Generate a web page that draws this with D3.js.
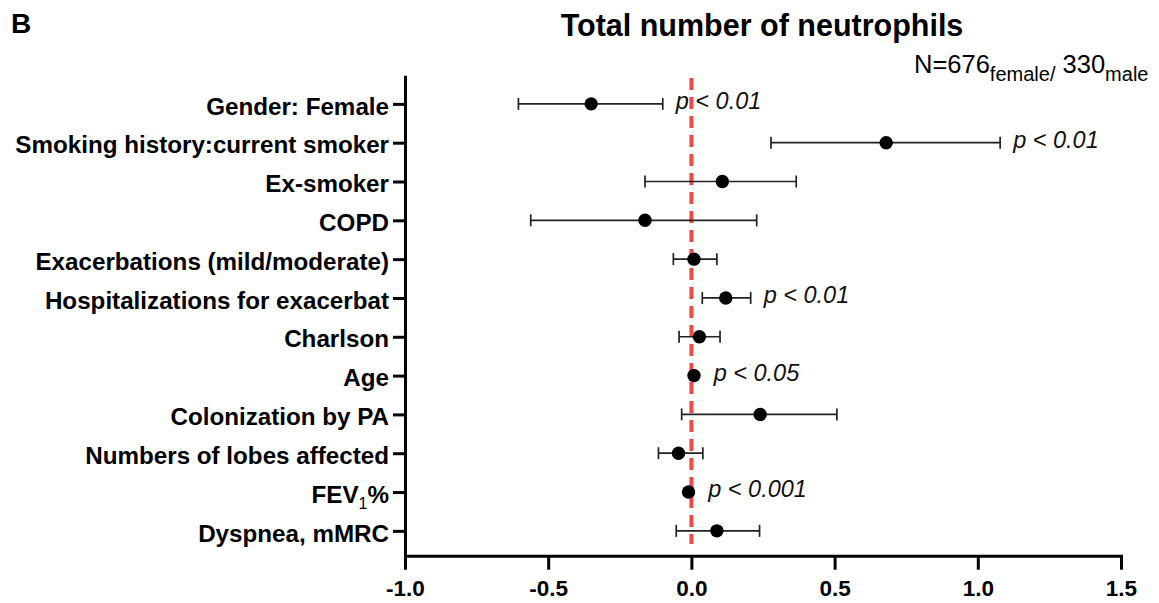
<!DOCTYPE html>
<html>
<head>
<meta charset="utf-8">
<script src="https://cdn.jsdelivr.net/npm/d3@7"></script>
<style>
  body { margin: 0; background: #fff; }
  svg text { font-family: "Liberation Sans", Arial, sans-serif; }
</style>
</head>
<body>
<svg id="chart" width="1159" height="603"></svg>
<script>
// Forest plot: total number of neutrophils

var categories = [
  'Gender: Female',
  'Smoking history:current smoker',
  'Ex-smoker',
  'COPD',
  'Exacerbations (mild/moderate)',
  'Hospitalizations for exacerbat',
  'Charlson',
  'Age',
  'Colonization by PA',
  'Numbers of lobes affected',
  'FEV1%',
  'Dyspnea, mMRC'
];
var estimates = [-0.35, 0.68, 0.108, -0.162, 0.009, 0.12, 0.028, 0.009, 0.24, -0.045, -0.01, 0.089];
var ciLow     = [-0.604, 0.278, -0.162, -0.561, -0.063, 0.038, -0.043, 0.005, -0.034, -0.115, -0.014, -0.053];
var ciHigh    = [-0.10, 1.078, 0.366, 0.228, 0.089, 0.207, 0.10, 0.013, 0.508, 0.04, -0.006, 0.238];
var pLabels   = ['p < 0.01', 'p < 0.01', '', '', '', 'p < 0.01', '', 'p < 0.05', '', '', 'p < 0.001', ''];
var xTicks      = [-1.0, -0.5, 0.0, 0.5, 1.0, 1.5];
var xTickLabels = ['-1.0', '-0.5', '0.0', '0.5', '1.0', '1.5'];

var svg = d3.select('#chart');

var x = d3.scaleLinear().domain([-1.0, 1.5]).range([405, 1121]);
var y = d3.scaleLinear().domain([-0.7, 11.64]).range([76.7, 555.7]);
var r = 6.7;

// reference line at zero
svg.append('line')
    .attr('x1', x(0)).attr('x2', x(0))
    .attr('y1', 78).attr('y2', 544)
    .attr('stroke', '#f44848')
    .attr('stroke-width', 4)
    .attr('stroke-dasharray', '12,7');

// axes
var yAxis = svg.append('g')
    .attr('transform', 'translate(' + x.range()[0] + ',0)')
    .call(d3.axisLeft(y)
      .tickValues(d3.range(categories.length))
      .tickFormat(function(i) { return categories[i]; })
      .tickSize(12).tickSizeOuter(0).tickPadding(4));

var xAxis = svg.append('g')
    .attr('transform', 'translate(0,' + y.range()[1] + ')')
    .call(d3.axisBottom(x)
      .tickValues(xTicks)
      .tickFormat(function(d, i) { return xTickLabels[i]; })
      .tickSize(14).tickSizeOuter(0).tickPadding(10));

[yAxis, xAxis].forEach(function(g) {
  g.selectAll('path, line').attr('stroke', '#000').attr('stroke-width', 3);
  g.select('.domain').attr('stroke-linecap', 'square');
  g.selectAll('text')
      .attr('fill', '#000')
      .attr('font-weight', 'bold')
      .style('font-family', '"Liberation Sans", Arial, sans-serif');
});
yAxis.selectAll('text').attr('font-size', 24.2).attr('dy', '0.42em');
xAxis.selectAll('text').attr('font-size', 22.5);

// FEV1 with subscript
yAxis.selectAll('.tick text').filter(function(i) { return categories[i] === 'FEV1%'; })
    .text(null)
    .call(function(t) {
      t.append('tspan').text('FEV');
      t.append('tspan').attr('font-size', 16).attr('font-weight', 'normal').attr('dy', 6).text('1');
      t.append('tspan').attr('dy', -6).text('%');
    });

var rows = categories.map(function(c, i) {
  return { i: i, est: estimates[i], lo: ciLow[i], hi: ciHigh[i], p: pLabels[i] };
});

var bars = svg.append('g').selectAll('g')
    .data(rows)
  .enter().append('g');

bars.append('line')
    .attr('x1', function(d) { return x(d.lo); })
    .attr('x2', function(d) { return x(d.hi); })
    .attr('y1', function(d) { return y(d.i); })
    .attr('y2', function(d) { return y(d.i); })
    .attr('stroke', '#222').attr('stroke-width', 1.7);

['lo', 'hi'].forEach(function(k) {
  bars.append('line')
      .attr('x1', function(d) { return x(d[k]); })
      .attr('x2', function(d) { return x(d[k]); })
      .attr('y1', function(d) { return y(d.i) - 6; })
      .attr('y2', function(d) { return y(d.i) + 6; })
      .attr('stroke', '#222').attr('stroke-width', 1.7);
});

bars.append('circle')
    .attr('cx', function(d) { return x(d.est); })
    .attr('cy', function(d) { return y(d.i); })
    .attr('r', r)
    .attr('fill', '#000');

bars.filter(function(d) { return d.p; }).append('text')
    .attr('x', function(d) { return Math.max(x(d.hi), x(d.est) + r) + 13; })
    .attr('y', function(d) { return y(d.i) + 5; })
    .attr('font-size', 23.5)
    .attr('font-style', 'italic')
    .attr('fill', '#111')
    .text(function(d) { return d.p; });

// titles
svg.append('text')
    .attr('x', 11).attr('y', 33.3)
    .attr('font-size', 28).attr('font-weight', 'bold')
    .text('B');

svg.append('text')
    .attr('x', 762).attr('y', 36)
    .attr('text-anchor', 'middle')
    .attr('font-size', 30.5).attr('font-weight', 'bold')
    .text('Total number of neutrophils');

var n = svg.append('text')
    .attr('x', 914).attr('y', 73.3)
    .attr('font-size', 25.5);
n.append('tspan').text('N=676');
n.append('tspan').attr('font-size', 20).attr('dy', 8).text('female/');
n.append('tspan').attr('dy', -8).text(' 330');
n.append('tspan').attr('font-size', 20).attr('dy', 8).text('male');
</script>
</body>
</html>
